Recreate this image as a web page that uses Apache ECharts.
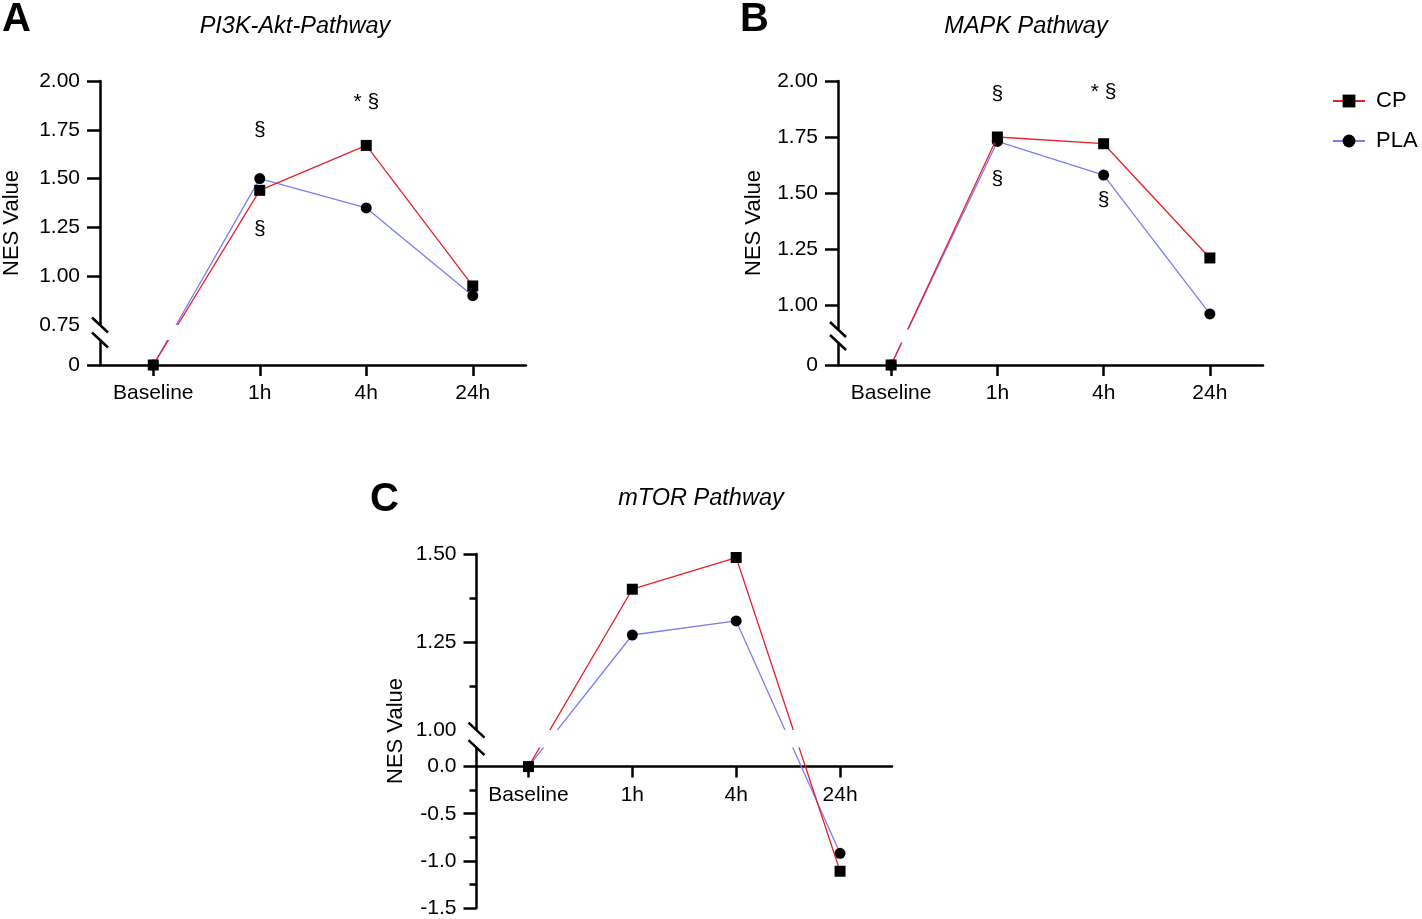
<!DOCTYPE html>
<html>
<head>
<meta charset="utf-8">
<title>NES Value - pathways</title>
<script src="https://cdn.jsdelivr.net/npm/echarts@6.0.0/dist/echarts.min.js"></script>
<style>
    html, body { margin: 0; padding: 0; background: #fff; }
    #main { width: 1422px; height: 919px; }
</style>
</head>
<body>
<div id="main"></div>
<script type="text/javascript">
    var timePoints = ['Baseline', '1h', '4h', '24h'];

    // PI3K-Akt-Pathway
    var aktCP = [0, 1.44, 1.67, 0.95];
    var aktPLA = [0, 1.50, 1.35, 0.90];
    // MAPK Pathway
    var mapkCP = [0, 1.75, 1.72, 1.21];
    var mapkPLA = [0, 1.73, 1.58, 0.96];
    // mTOR Pathway
    var mtorCP = [0, 1.40, 1.49, -1.11];
    var mtorPLA = [0, 1.27, 1.31, -0.92];

    // significance marks: [time index, y value, text]
    var aktMarks = [[1, 1.75, '§'], [1, 1.24, '§'], [2, 1.89, '* §']];
    var mapkMarks = [[1, 1.94, '§'], [2, 1.95, '* §'], [1, 1.56, '§'], [2, 1.47, '§']];

    // y ticks / labels (axes are broken)
    var aktTicks = [0, 1.00, 1.25, 1.50, 1.75, 2.00];
    var aktLabels = [0, 0.75, 1.00, 1.25, 1.50, 1.75, 2.00];
    var mapkTicks = [0, 1.00, 1.25, 1.50, 1.75, 2.00];
    var mapkLabels = [0, 1.00, 1.25, 1.50, 1.75, 2.00];
    var mtorTicks = [-1.5, -1.0, -0.5, 0, 1.25, 1.50];
    var mtorMinorTicks = [-1.25, -0.75, -0.25, 1.125, 1.375];
    var mtorLabels = [-1.5, -1.0, -0.5, 0, 1.00, 1.25, 1.50];

    var RED = '#e8202a';
    var BLUE = '#7c7cf4';
    var FONT = 'Liberation Sans, Arial, Helvetica, sans-serif';

    // piecewise linear map for a broken y axis (below 0 / above the break)
    function brokenScale(o) {
        return {
            fwd: function (v) { return v <= 0 ? v * o.kLow : o.gap + (v - o.upBase) * o.kUp; },
            inv: function (p) { return p <= 0 ? p / o.kLow : o.upBase + (p - o.gap) / o.kUp; }
        };
    }

    var panels = [
        {
            letter: 'A', title: 'PI3K-Akt-Pathway', cp: aktCP, pla: aktPLA, marks: aktMarks,
            ticks: aktTicks, labels: aktLabels, minV: 0, maxV: 2.00,
            scale: brokenScale({ kLow: 195.2, kUp: 195.2, gap: 40, upBase: 0.75 }),
            fmt: function (v) { return Math.abs(v) < 1e-6 ? '0' : v.toFixed(2); },
            grid: { left: 100, top: 81, width: 426, height: 284 },
            band: [25, 40], nameGap: 77,
            letterPos: [2, 0], titlePos: [295, 15]
        },
        {
            letter: 'B', title: 'MAPK Pathway', cp: mapkCP, pla: mapkPLA, marks: mapkMarks,
            ticks: mapkTicks, labels: mapkLabels, minV: 0, maxV: 2.00,
            scale: brokenScale({ kLow: 224, kUp: 224, gap: 60, upBase: 1.00 }),
            fmt: function (v) { return Math.abs(v) < 1e-6 ? '0' : v.toFixed(2); },
            grid: { left: 838, top: 81, width: 425, height: 284 },
            band: [22.5, 35.5], nameGap: 73,
            letterPos: [740, 0], titlePos: [1026, 15]
        },
        {
            letter: 'C', title: 'mTOR Pathway', cp: mtorCP, pla: mtorPLA, marks: [],
            ticks: mtorTicks, labels: mtorLabels, minor: mtorMinorTicks, minV: -1.5, maxV: 1.50,
            scale: brokenScale({ kLow: 94.2, kUp: 352, gap: 36.5, upBase: 1.00 }),
            fmt: function (v) {
                v = Math.round(v * 1000) / 1000 + 0;
                return v <= 0.001 ? v.toFixed(1) : v.toFixed(2);
            },
            grid: { left: 476.5, top: 554, width: 415.5, height: 354 },
            band: [19, 36.5], nameGap: 70,
            letterPos: [370, 480], titlePos: [701, 487]
        }
    ];

    var grids = [], xAxes = [], yAxes = [], series = [], titles = [];

    panels.forEach(function (p, i) {
        var s = p.scale;
        grids.push({ left: p.grid.left, top: p.grid.top, width: p.grid.width, height: p.grid.height, containLabel: false, outerBoundsMode: 'none' });

        // x axis sits at y = 0: pull it up from the grid bottom by the span below zero
        var zeroLift = (s.fwd(0) - s.fwd(p.minV)) * p.grid.height / (s.fwd(p.maxV) - s.fwd(p.minV));
        xAxes.push({
            type: 'category', gridIndex: i, data: timePoints, boundaryGap: true,
            position: 'bottom', offset: -zeroLift,
            axisLine: { show: true, onZero: false, lineStyle: { color: '#000', width: 2.5 } },
            axisTick: { show: true, alignWithLabel: true, interval: 0, length: 11, lineStyle: { color: '#000', width: 2.5 } },
            axisLabel: { show: true, interval: 0, color: '#000', fontSize: 21, margin: 18, fontFamily: FONT },
            splitLine: { show: false }
        });

        p.yIndex = yAxes.length;
        yAxes.push({
            type: 'value', gridIndex: i, min: s.fwd(p.minV), max: s.fwd(p.maxV),
            name: 'NES Value', nameLocation: 'middle', nameGap: p.nameGap,
            nameTextStyle: { color: '#000', fontSize: 22, fontFamily: FONT },
            axisLine: { show: true, onZero: false, lineStyle: { color: '#000', width: 2.5 } },
            axisTick: { show: true, length: 13, lineStyle: { color: '#000', width: 2.5 }, customValues: p.ticks.map(s.fwd) },
            axisLabel: {
                color: '#000', fontSize: 21, margin: 20, fontFamily: FONT,
                customValues: p.labels.map(s.fwd),
                formatter: function (val) { return p.fmt(s.inv(val)); }
            },
            splitLine: { show: false }
        });
        if (p.minor) {
            yAxes.push({
                type: 'value', gridIndex: i, min: s.fwd(p.minV), max: s.fwd(p.maxV), position: 'left',
                axisLine: { show: false },
                axisTick: { show: true, length: 7, lineStyle: { color: '#000', width: 2.5 }, customValues: p.minor.map(s.fwd) },
                axisLabel: { show: false },
                splitLine: { show: false }
            });
        }

        series.push({
            type: 'line', name: 'PLA', xAxisIndex: i, yAxisIndex: p.yIndex,
            data: p.pla.map(s.fwd), symbol: 'circle', symbolSize: 11,
            itemStyle: { color: '#000' }, lineStyle: { color: BLUE, width: 1.3 },
            z: 3, silent: true
        });
        series.push({
            type: 'line', name: 'CP', xAxisIndex: i, yAxisIndex: p.yIndex,
            data: p.cp.map(s.fwd), symbol: 'rect', symbolSize: 11,
            itemStyle: { color: '#000' }, lineStyle: { color: RED, width: 1.3 },
            z: 4, silent: true
        });
        if (p.marks.length) {
            series.push({
                type: 'scatter', name: 'marks' + i, xAxisIndex: i, yAxisIndex: p.yIndex,
                symbolSize: 1, itemStyle: { color: 'rgba(255,255,255,0)', opacity: 1 }, silent: true,
                label: { show: true, position: 'inside', color: '#000', textBorderWidth: 0, fontSize: 21, fontFamily: FONT },
                data: p.marks.map(function (m) {
                    return { value: [m[0], s.fwd(m[1])], label: { formatter: m[2] } };
                })
            });
        }

        titles.push({
            text: p.letter, left: p.letterPos[0], top: p.letterPos[1], padding: 0,
            textStyle: { color: '#000', fontSize: 40, fontWeight: 'bold', fontFamily: FONT }
        });
        titles.push({
            text: p.title, left: p.titlePos[0], top: p.titlePos[1], textAlign: 'center', padding: 0,
            textStyle: { color: '#000', fontSize: 23.5, fontWeight: 'normal', fontStyle: 'italic', fontFamily: FONT }
        });
    });

    var chart = echarts.init(document.getElementById('main'));
    chart.setOption({
        animation: false,
        backgroundColor: '#fff',
        textStyle: { fontFamily: FONT },
        title: titles,
        legend: {
            data: ['CP', 'PLA'], orient: 'vertical', left: 1327, top: 85,
            itemWidth: 32, itemHeight: 16, itemGap: 18,
            textStyle: { color: '#000', fontSize: 22, fontFamily: FONT, padding: [0, 0, 0, 6] }
        },
        grid: grids,
        xAxis: xAxes,
        yAxis: yAxes,
        series: series
    });

    // break marks: white gap across the plot and the two slashes on the y axis
    var gfx = [];
    panels.forEach(function (p) {
        var yTop = chart.convertToPixel({ yAxisIndex: p.yIndex }, p.band[1]);
        var yBot = chart.convertToPixel({ yAxisIndex: p.yIndex }, p.band[0]);
        var x0 = p.grid.left;
        gfx.push({
            type: 'rect', silent: true, z: 100,
            shape: { x: x0 - 4, y: yTop, width: p.grid.width + 6, height: yBot - yTop },
            style: { fill: '#fff' }
        });
        [yTop, yBot].forEach(function (y) {
            gfx.push({
                type: 'line', silent: true, z: 101,
                shape: { x1: x0 - 8, y1: y - 7.5, x2: x0 + 8, y2: y + 7.5 },
                style: { stroke: '#000', lineWidth: 2.5 }
            });
        });
    });
    chart.setOption({ graphic: gfx });
</script>
</body>
</html>
